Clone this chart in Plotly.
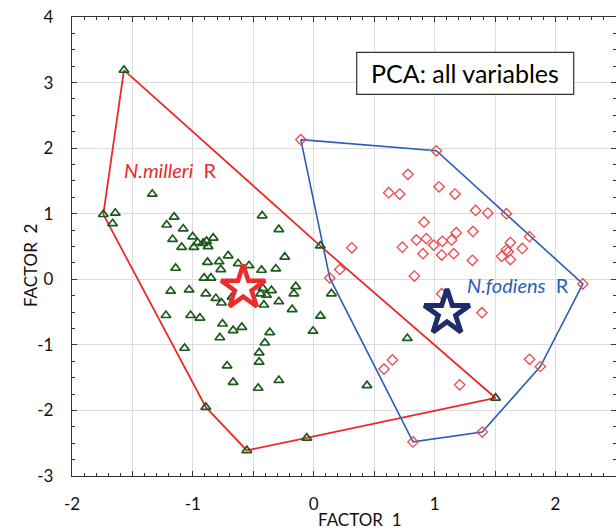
import plotly.graph_objects as go

# N. milleri scores (FACTOR 1, FACTOR 2)
milleri_f1 = [-1.570, -1.741, -0.893, -0.554, -0.058, 1.504, 0.054,
              -1.336, -1.642, -1.664, -1.155, -1.217, -1.080, -1.168, -1.002,
              -0.961, -0.915, -0.887, -0.832, -0.874, -0.992, -1.093, -0.427,
              -0.289, -0.708, -0.240, -0.879, -0.783, -0.626, -0.535, -1.143,
              -0.769, -0.432, -0.314, -0.907, -0.851, -0.149, -0.165, -0.421,
              -0.350, -0.440, -0.391, -1.184, -1.031, -0.893, -0.810, -0.763,
              -0.675, 0.146, -0.413, -0.289, -0.179, -1.223, -1.019, -0.942,
              0.055, -0.755, -0.667, -0.595, -0.364, -0.006, -0.777, -0.405,
              -1.069, -0.452, -0.452, -0.717, -0.667, -0.460, -0.289, 0.774,
              0.440]
milleri_f2 = [3.19, 0.99, -1.95, -2.61, -2.42, -1.81, 0.51,
              1.30, 1.01, 0.85, 0.95, 0.83, 0.77, 0.61, 0.65,
              0.56, 0.55, 0.58, 0.63, 0.50, 0.49, 0.49, 0.97,
              0.76, 0.36, 0.34, 0.26, 0.27, 0.24, 0.21, 0.17,
              0.15, 0.14, 0.16, 0.02, 0.02, -0.11, -0.22, -0.14,
              -0.17, -0.22, -0.24, -0.18, -0.16, -0.22, -0.29, -0.36,
              -0.27, -0.22, -0.39, -0.34, -0.46, -0.55, -0.55, -0.59,
              -0.56, -0.68, -0.78, -0.73, -0.81, -0.79, -0.89, -0.97,
              -1.05, -1.12, -1.26, -1.32, -1.57, -1.66, -1.54, -0.90,
              -1.62]

# N. fodiens scores (FACTOR 1, FACTOR 2)
fodiens_f1 = [-0.107, 1.014, 0.779, 1.036, 0.620, 0.711, 1.168, 1.339, 1.440,
              1.593, 0.912, 1.317, 1.179, 1.785, 0.849, 0.931, 1.064, 1.140,
              1.626, 0.992, 0.314, 0.733, 1.725, 1.593, 1.609, 0.903, 1.058,
              1.157, 1.554, 1.626, 1.312, 0.215, 0.132, 0.832, 2.226, 1.058,
              1.118, 1.391, 1.785, 1.874, 0.650, 0.581, 1.207, 1.394, 0.821]
fodiens_f2 = [2.13, 1.96, 1.60, 1.41, 1.32, 1.30, 1.30, 1.05, 1.01,
              1.00, 0.87, 0.73, 0.71, 0.65, 0.60, 0.62, 0.58, 0.60,
              0.56, 0.52, 0.48, 0.49, 0.47, 0.45, 0.42, 0.39, 0.37,
              0.39, 0.35, 0.30, 0.29, 0.15, 0.02, 0.05, -0.07, -0.22,
              -0.38, -0.51, -1.22, -1.33, -1.23, -1.37, -1.61, -2.33, -2.48]

# Convex hull vertices (closed)
milleri_hull_f1 = [-1.570, -1.741, -0.893, -0.554, -0.058, 1.504, 0.054, -1.570]
milleri_hull_f2 = [3.19, 0.99, -1.95, -2.61, -2.42, -1.81, 0.51, 3.19]
fodiens_hull_f1 = [-0.107, 1.014, 2.226, 1.874, 1.394, 0.821, 0.132, -0.107]
fodiens_hull_f2 = [2.13, 1.96, -0.07, -1.33, -2.33, -2.48, 0.02, 2.13]

# Group centroids
centroid_milleri = (-0.584, -0.13)
centroid_fodiens = (1.102, -0.51)

RED = "#ec2a2a"
BLUE = "#2a5fb4"
GREEN = "#1c5a1c"
NAVY = "#1d2c6b"
FONT = "Lato"

fig = go.Figure()

fig.add_trace(go.Scatter(x=milleri_hull_f1, y=milleri_hull_f2, mode="lines",
                         line=dict(color=RED, width=1.8), hoverinfo="skip"))
fig.add_trace(go.Scatter(x=fodiens_hull_f1, y=fodiens_hull_f2, mode="lines",
                         line=dict(color=BLUE, width=1.6), hoverinfo="skip"))

fig.add_trace(go.Scatter(x=fodiens_f1, y=fodiens_f2, mode="markers",
                         marker=dict(symbol="diamond-open", size=8, color="#f0474a",
                                     line=dict(width=1.3))))
fig.add_trace(go.Scatter(x=milleri_f1, y=milleri_f2, mode="markers",
                         marker=dict(symbol="triangle-up-open", size=8.5, color=GREEN,
                                     line=dict(width=1.7))))

fig.add_trace(go.Scatter(x=[centroid_milleri[0]], y=[centroid_milleri[1]], mode="markers",
                         marker=dict(symbol="star", size=33, color="white",
                                     line=dict(color=RED, width=4.5))))
fig.add_trace(go.Scatter(x=[centroid_fodiens[0]], y=[centroid_fodiens[1]], mode="markers",
                         marker=dict(symbol="star", size=34, color="white",
                                     line=dict(color=NAVY, width=5))))

# Group labels
fig.add_annotation(x=-1.59, y=1.66, xanchor="left", yanchor="middle", showarrow=False,
                   text="<i>N.milleri</i>  R", font=dict(family=FONT, size=20, color=RED))
fig.add_annotation(x=1.255, y=-0.09, xanchor="left", yanchor="middle", showarrow=False,
                   text="<i>N.fodiens</i>  R", font=dict(family=FONT, size=20, color=BLUE))

# Title box
fig.add_shape(type="rect", x0=0.355, x1=2.150, y0=2.82, y1=3.46,
              line=dict(color="#333333", width=1.2), fillcolor="white")
fig.add_annotation(x=1.252, y=3.14, showarrow=False, text="PCA: all variables",
                   font=dict(family=FONT, size=25, color="black"))

# Axis titles
fig.add_annotation(x=(360 - 72) / 544, y=-0.095, xref="paper", yref="paper",
                   showarrow=False, text="FACTOR  1", yanchor="middle",
                   font=dict(family=FONT, size=17, color="#111111"))
fig.add_annotation(x=-0.1, y=(476 - 265) / 459, xref="paper", yref="paper",
                   showarrow=False, text="FACTOR  2", textangle=-90,
                   font=dict(family=FONT, size=17, color="#111111"))

x_ticks = [-2, -1.5, -1, -0.5, 0, 0.5, 1, 1.5, 2, 2.5]
x_labels = ["-2", "", "-1", "", "0", "", "1", "", "2", ""]
y_ticks = [-3, -2, -1, 0, 1, 2, 3, 4]
y_labels = ["-3", "-2", "-1", "0", "1", "2", "3", "4"]

fig.update_xaxes(range=[-2, 2.5], tickvals=x_ticks, ticktext=x_labels,
                 showgrid=True, gridcolor="#dcdcdc", gridwidth=1, zeroline=False,
                 showline=True, linecolor="#333333", linewidth=1.3, mirror="ticks",
                 ticks="inside", ticklen=5, tickcolor="#333333",
                 minor=dict(ticks="inside", ticklen=3, dtick=0.1, tickcolor="#333333",
                            showgrid=False),
                 ticklabelstandoff=12,
                 tickfont=dict(family=FONT, size=17, color="#111111"))
fig.update_yaxes(range=[-3, 4], tickvals=y_ticks, ticktext=y_labels,
                 showgrid=True, gridcolor="#dcdcdc", gridwidth=1, zeroline=False,
                 showline=True, linecolor="#333333", linewidth=1.3, mirror="ticks",
                 ticks="inside", ticklen=5, tickcolor="#333333",
                 minor=dict(ticks="inside", ticklen=3, dtick=0.25, tickcolor="#333333",
                            showgrid=False),
                 ticklabelstandoff=14,
                 tickfont=dict(family=FONT, size=17, color="#111111"))

fig.update_layout(width=616, height=532, showlegend=False,
                  margin=dict(l=72, r=0, t=17, b=56),
                  paper_bgcolor="white", plot_bgcolor="white")

fig.write_html("out.html")
